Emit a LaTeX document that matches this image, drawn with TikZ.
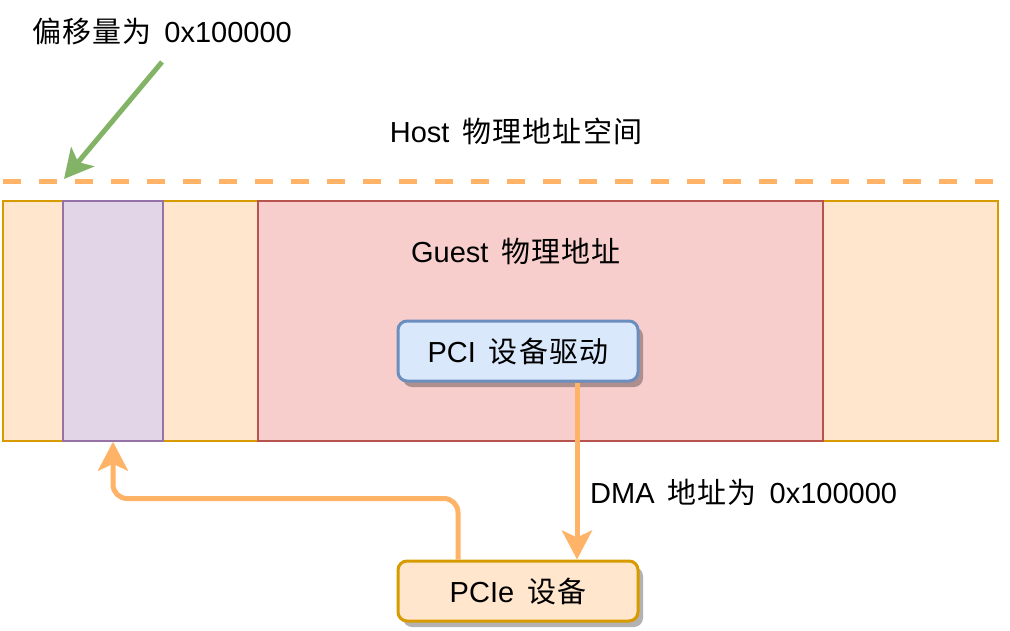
\documentclass[tikz,border=0pt]{standalone}
\usepackage{fontspec}
\setmainfont{Liberation Sans}
\newfontfamily\cjk[LetterSpace=4]{Noto Sans CJK SC}
\usetikzlibrary{arrows.meta,shadows}
\definecolor{orfill}{HTML}{FFE6CC}
\definecolor{ordraw}{HTML}{D79B00}
\definecolor{pufill}{HTML}{E1D5E7}
\definecolor{pudraw}{HTML}{9673A6}
\definecolor{refill}{HTML}{F8CECC}
\definecolor{redraw}{HTML}{B85450}
\definecolor{blfill}{HTML}{DAE8FC}
\definecolor{bldraw}{HTML}{6C8EBF}
\definecolor{flowc}{HTML}{FFB366}
\definecolor{greenc}{HTML}{82B366}
\tikzset{
  region/.style={inner sep=0pt, line width=1.5pt, minimum height=240pt},
  boxnode/.style={rounded corners=9pt, line width=3pt, minimum width=240pt, minimum height=60pt, inner sep=0pt,
    drop shadow={shadow xshift=5pt, shadow yshift=-6pt, fill=black, opacity=0.3}},
  lbl/.style={inner sep=0pt},
  flow/.style={draw=flowc, line width=5pt, -{Stealth[length=29pt,width=30pt,inset=7pt]}},
  greenarrow/.style={draw=greenc, line width=5pt, -{Stealth[length=29pt,width=30pt,inset=7pt]}},
  dashline/.style={draw=flowc, line width=5pt, dash pattern=on 18pt off 18pt},
}
\begin{document}
\begin{tikzpicture}[x=1pt,y=-1pt, every node/.style={font=\fontsize{29}{34}\selectfont}]
\useasboundingbox (0,0) rectangle (1010,630);
% memory regions
\node[region, fill=orfill, draw=ordraw, minimum width=995pt] (host) at (500.5,321) {};
\node[region, fill=pufill, draw=pudraw, minimum width=100pt] (offset) at (113,321) {};
\node[region, fill=refill, draw=redraw, minimum width=565pt] (guest) at (540.5,321) {};
% dashed host line
\coordinate (dl) at (3,181);
\coordinate (dr) at (998,181);
\draw[dashline] (dl) -- (dr);
% labels
\node[lbl] (offlbl) at (162,31) {{\cjk 偏移量为}\, 0x100000};
\node[lbl] (hostlbl) at (516,131) {Host\, {\cjk 物理地址空间}};
\node[lbl] (guestlbl) at (516,251) {Guest\, {\cjk 物理地址}};
% boxes
\node[boxnode, fill=blfill, draw=bldraw] (pci) at (518,351) {PCI\, {\cjk 设备驱动}};
\node[boxnode, fill=orfill, draw=ordraw] (pcie) at (518,591) {PCIe\, {\cjk 设备}};
% green arrow
\coordinate (gs) at (162,62);
\coordinate (ge) at (64,179);
\draw[greenarrow] (gs) -- (ge);
% DMA arrow
\draw[flow] ([xshift=59pt]pci.south) -- ([xshift=59pt]pcie.north);
\node[lbl, anchor=west] (dmalbl) at (590,492) {DMA\, {\cjk 地址为}\, 0x100000};
% return arrow
\draw[flow, rounded corners=14pt] ([xshift=-60pt]pcie.north) -- ++(0,-61) -| (offset.south);
\end{tikzpicture}
\end{document}
